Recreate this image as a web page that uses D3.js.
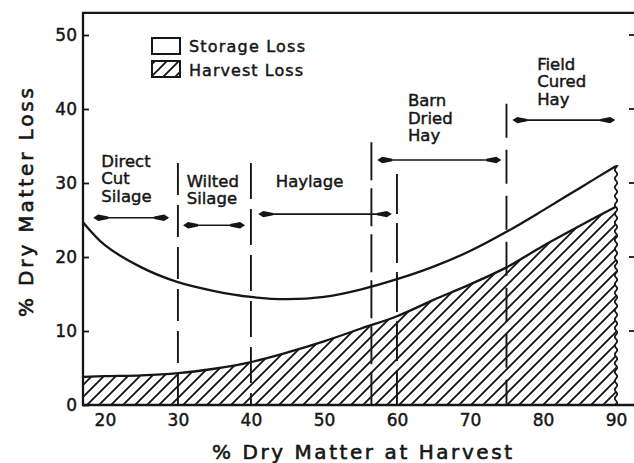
<!DOCTYPE html>
<html><head><meta charset="utf-8">
<script src="https://cdn.jsdelivr.net/npm/d3@7"></script>
<style>
body{margin:0;background:#fff}
svg{display:block}
text{font-family:"DejaVu Sans",sans-serif;fill:#161616;stroke:#161616;stroke-width:0.45px}
</style>
</head><body><svg id="c" width="634" height="463"></svg>
<script>
// ---- data ----
const dryMatter   = [17,20,25,30,35,40,45,50,55,60,65,70,75,80,85,90];
const totalLoss   = [24.7,21.6,18.6,16.6,15.4,14.6,14.3,14.6,15.6,17.0,18.7,20.8,23.4,26.3,29.3,32.3];
const harvestLoss = [3.8,3.9,4.0,4.3,4.9,5.8,7.1,8.6,10.3,12.0,14.2,16.3,18.6,21.5,24.2,26.8];
const xTicks = [20,30,40,50,60,70,80,90];
const yTicks = [0,10,20,30,40,50];
const rightTicks = [10,20,30,40,50];
const boundaries   = [30,40,56.5,60,75];
const boundaryTops = [32.7,32.7,35.5,31.2,40.7];
const regionLabels = [["Direct","Cut","Silage"],["Wilted","Silage"],["Haylage"],["Barn","Dried","Hay"],["Field","Cured","Hay"]];
const regionFrom  = [18.4,30.7,41.0,57.3,75.8];
const regionTo    = [28.8,39.2,59.3,74.3,89.9];
const arrowLevel  = [25.3,24.3,25.8,33.1,38.5];
const labelLeft   = [19.5,31.2,43.4,61.5,79.2];
const labelTop    = [32.2,29.5,29.5,40.4,45.3];
const legendNames = ["Storage Loss","Harvest Loss"];
const xTitle = "% Dry Matter at Harvest";
const yTitle = "% Dry Matter Loss";

// ---- layout ----
const svg = d3.select("#c");
const ink = "#161616";
const x = d3.scaleLinear([17,90],[83,616]);
const y = d3.scaleLinear([0,50],[405,35]);
const xLeft = x(17), xRight = 634, yBottom = y(0), yTop = y(53);

const defs = svg.append("defs");
const pat = defs.append("pattern").attr("id","hatch").attr("patternUnits","userSpaceOnUse")
  .attr("width",12).attr("height",12);
pat.append("path").attr("d","M0,12 L12,0 M-3,3 L3,-3 M9,15 L15,9")
  .attr("stroke",ink).attr("stroke-width",1.9).attr("fill","none");

const pts = dryMatter.map((d,i)=>({x:d,t:totalLoss[i],h:harvestLoss[i]}));
const curve = d3.curveCatmullRom.alpha(0.5);

// hatched harvest area
svg.append("path").datum(pts)
  .attr("d", d3.area().x(d=>x(d.x)).y0(yBottom).y1(d=>y(d.h)).curve(curve))
  .attr("fill","url(#hatch)");

// dashed boundaries
svg.selectAll(".bnd").data(boundaries).join("line")
  .attr("x1",d=>x(d)).attr("x2",d=>x(d))
  .attr("y1",(d,i)=>y(boundaryTops[i])).attr("y2",yBottom)
  .attr("stroke",ink).attr("stroke-width",1.9)
  .attr("stroke-dasharray",(d,i)=>["32,10","36,10","38,8","40,9","34,12"][i]);

// curves
svg.append("path").datum(pts)
  .attr("d", d3.line().x(d=>x(d.x)).y(d=>y(d.h)).curve(curve))
  .attr("fill","none").attr("stroke",ink).attr("stroke-width",2.3);
svg.append("path").datum(pts)
  .attr("d", d3.line().x(d=>x(d.x)).y(d=>y(d.t)).curve(curve))
  .attr("fill","none").attr("stroke",ink).attr("stroke-width",2.3);

// wavy break line at right end
const last = pts[pts.length-1];
const wy0 = yBottom, wy1 = y(last.t);
const wave = d3.range(wy0, wy1-0.01, -1).map(v=>[x(last.x)+1.2*Math.sin((wy0-v)/1.4), v]);
wave.push([x(last.x), wy1]);
svg.append("path").attr("d", d3.line()(wave))
  .attr("fill","none").attr("stroke",ink).attr("stroke-width",1.8);

// frame
svg.append("path")
  .attr("d",`M${xRight},${yTop}H${xLeft}V${yBottom}H${xRight}`)
  .attr("fill","none").attr("stroke",ink).attr("stroke-width",2.3);

// axes
const ya = svg.append("g").attr("transform",`translate(${xLeft},0)`)
  .call(d3.axisLeft(y).tickValues(yTicks).tickSize(-6).tickSizeOuter(0).tickPadding(6));
ya.select(".domain").remove();
ya.selectAll("line").attr("stroke",ink).attr("stroke-width",1.8);
ya.selectAll("text").attr("font-size",17).attr("font-family","DejaVu Sans").attr("fill",ink);

const xa = svg.append("g").attr("transform",`translate(0,${yBottom})`)
  .call(d3.axisBottom(x).tickValues(xTicks).tickSize(0).tickPadding(9));
xa.select(".domain").remove();
xa.selectAll("text").attr("font-size",17).attr("font-family","DejaVu Sans").attr("fill",ink);

// right edge ticks
svg.selectAll(".rt").data(rightTicks).join("line")
  .attr("x1",xRight-5).attr("x2",xRight).attr("y1",d=>y(d)).attr("y2",d=>y(d))
  .attr("stroke",ink).attr("stroke-width",1.8);

// axis titles
svg.append("text").attr("x",212).attr("y",459).attr("font-size",20).style("stroke-width","0.6px")
  .attr("textLength",300).attr("lengthAdjust","spacing").text(xTitle);
svg.append("text").attr("transform","translate(33,317) rotate(-90)").attr("font-size",20).style("stroke-width","0.6px")
  .attr("textLength",229).attr("lengthAdjust","spacing").text(yTitle);

// legend
const lg = svg.append("g");
lg.append("rect").attr("x",152).attr("y",38).attr("width",28).attr("height",16)
  .attr("fill","#fff").attr("stroke",ink).attr("stroke-width",2);
lg.append("rect").attr("x",152).attr("y",61).attr("width",28).attr("height",16)
  .attr("fill","url(#hatch)").attr("stroke",ink).attr("stroke-width",2);
lg.selectAll("text").data(legendNames).join("text")
  .attr("x",189).attr("y",(d,i)=>52+i*24).attr("font-size",16)
  .attr("textLength",(d,i)=>[116,114][i]).attr("lengthAdjust","spacing").text(d=>d);

// region labels
regionLabels.forEach((lines,i)=>{
  const t = svg.append("text").attr("font-size",16.5);
  lines.forEach((s,j)=>{
    t.append("tspan").attr("x",x(labelLeft[i])).attr("y",y(labelTop[i])+j*17.5).text(s);
  });
});

// double arrows
const head = "M0,0 L-5,-3.2 L-15,-1.2 L-15,1.2 L-5,3.2 Z";
regionFrom.forEach((f,i)=>{
  const x1 = x(f), x2 = x(regionTo[i]), yy = y(arrowLevel[i]);
  svg.append("line").attr("x1",x1+8).attr("x2",x2-8).attr("y1",yy).attr("y2",yy)
    .attr("stroke",ink).attr("stroke-width",1.6);
  svg.append("path").attr("d",head).attr("transform",`translate(${x2},${yy})`).attr("fill",ink);
  svg.append("path").attr("d",head).attr("transform",`translate(${x1},${yy}) rotate(180)`).attr("fill",ink);
});
</script>
</body></html>
